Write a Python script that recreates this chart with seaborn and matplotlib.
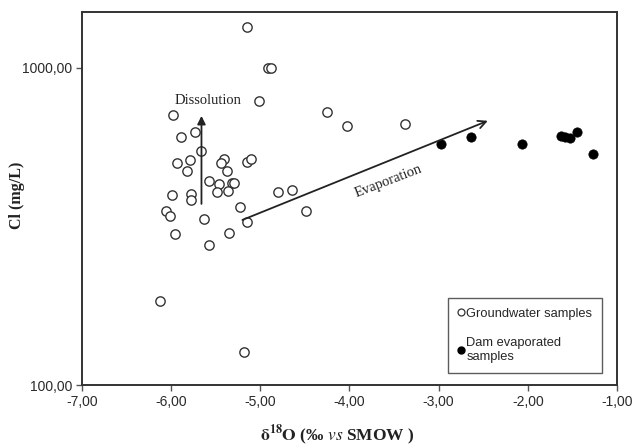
import matplotlib
matplotlib.use("Agg")
import matplotlib.pyplot as plt
import seaborn as sns
import pandas as pd
from matplotlib.lines import Line2D
from matplotlib.ticker import FixedLocator, FixedFormatter, NullLocator

# Groundwater samples (open circles)
gw_d18o = [-5.145, -4.91, -4.88, -5.02, -5.98, -4.25, -4.03, -3.38, -5.89, -5.73,
           -5.66, -5.93, -5.79, -5.82, -5.41, -5.44, -5.37, -5.145, -5.11, -5.57,
           -5.46, -5.32, -5.29, -5.49, -5.36, -5.99, -5.78, -5.78, -4.80, -4.64,
           -6.06, -6.01, -5.63, -5.23, -5.145, -4.49, -5.96, -5.35, -5.57, -6.12,
           -5.18]
gw_cl = [1346, 1000, 1000, 787, 711, 726, 656, 665, 606, 628,
         547, 501, 512, 473, 516, 501, 473, 505, 516, 440,
         431, 434, 434, 406, 409, 397, 401, 384, 406, 412,
         354, 341, 334, 365, 327, 354, 299, 302, 277, 184,
         127]

# Dam evaporated samples (filled circles)
dam_d18o = [-2.97, -2.64, -2.06, -1.63, -1.58, -1.53, -1.45, -1.27]
dam_cl = [575, 606, 575, 610, 606, 601, 628, 535]

x_ticks = [-7, -6, -5, -4, -3, -2, -1]
x_tick_labels = ["-7,00", "-6,00", "-5,00", "-4,00", "-3,00", "-2,00", "-1,00"]
y_ticks = [100, 1000]
y_tick_labels = ["100,00", "1000,00"]

gw = pd.DataFrame({"d18O": gw_d18o, "Cl": gw_cl})
dam = pd.DataFrame({"d18O": dam_d18o, "Cl": dam_cl})

sns.set_style("white")
plt.rcParams["font.family"] = ["Liberation Sans", "DejaVu Sans"]
plt.rcParams["mathtext.fontset"] = "stix"

fig = plt.figure(figsize=(6.34, 4.48), dpi=100)
ax = fig.add_axes([0.1293, 0.1406, 0.8439, 0.8326])

sns.scatterplot(data=gw, x="d18O", y="Cl", ax=ax, marker="o", s=45,
                facecolor="white", edgecolor="#333333", linewidth=1.0, zorder=3)
sns.scatterplot(data=dam, x="d18O", y="Cl", ax=ax, marker="o", s=45,
                color="black", edgecolor="black", linewidth=0.5, zorder=3)

ax.set_yscale("log")
ax.set_xlim(-7, -1)
ax.set_ylim(100, 1500)
ax.xaxis.set_major_locator(FixedLocator(x_ticks))
ax.xaxis.set_major_formatter(FixedFormatter(x_tick_labels))
ax.yaxis.set_major_locator(FixedLocator(y_ticks))
ax.yaxis.set_major_formatter(FixedFormatter(y_tick_labels))
ax.yaxis.set_minor_locator(NullLocator())
ax.tick_params(axis="both", which="major", direction="out", length=4, width=1,
               color="#555555", labelsize=10, labelcolor="#2a2a2a", pad=3,
               bottom=True, left=True)
for sp in ax.spines.values():
    sp.set_visible(True)
    sp.set_color("#333333")
    sp.set_linewidth(1.4)

ax.set_xlabel("")
ax.set_ylabel("")
fig.text(0.532, 0.029, r"$\mathbf{\delta^{18}O}$ (‰ $\mathit{vs}$ SMOW )", fontsize=12.5,
         family="Liberation Serif", weight="bold", ha="center", va="center",
         color="#222222")
fig.text(0.027, 0.565, "Cl (mg/L)", fontsize=11.5, family="Liberation Serif",
         weight="bold", rotation=90, ha="center", va="center", color="#222222")

# Dissolution arrow
ax.annotate("", xy=(-5.66, 720), xytext=(-5.66, 365),
            arrowprops=dict(arrowstyle="-|>", color="#222222", lw=1.3,
                            mutation_scale=12))
ax.text(-5.59, 790, "Dissolution", fontsize=10.5, family="Liberation Serif",
        ha="center", va="center", color="#222222")

# Evaporation arrow
ax.annotate("", xy=(-2.42, 686), xytext=(-5.23, 329),
            arrowprops=dict(arrowstyle="->", color="#222222", lw=1.3,
                            mutation_scale=14))
ax.text(-3.56, 440, "Evaporation", fontsize=10.5, family="Liberation Serif",
        ha="center", va="center", rotation=21, color="#222222")

handles = [
    Line2D([], [], marker="o", linestyle="none", markersize=5,
           markerfacecolor="white", markeredgecolor="#333333", markeredgewidth=0.9),
    Line2D([], [], marker="o", linestyle="none", markersize=5,
           markerfacecolor="black", markeredgecolor="black"),
]
leg = ax.legend(handles, ["Groundwater samples", "Dam evaporated\nsamples"],
                loc="lower right", bbox_to_anchor=(0.972, 0.032),
                borderaxespad=0, frameon=True, fancybox=False, fontsize=9.3,
                handlelength=0.5, handletextpad=0.15, labelspacing=1.3,
                borderpad=0.75)
leg.get_frame().set_edgecolor("#333333")
leg.get_frame().set_linewidth(1.0)
for t in leg.get_texts():
    t.set_linespacing(1.3)

fig.savefig("out.png", dpi=100)
